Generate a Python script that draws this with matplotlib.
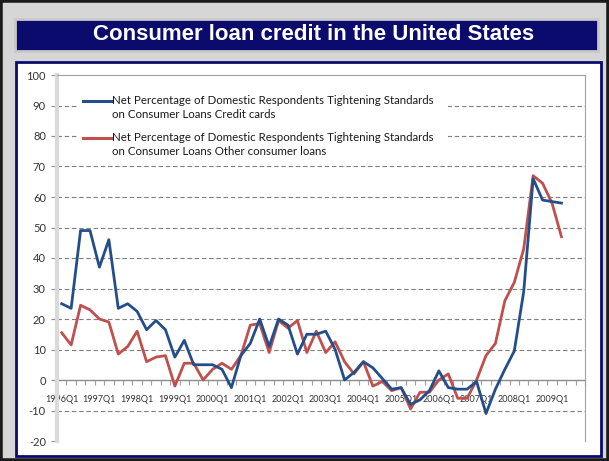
import matplotlib
matplotlib.use("Agg")
import matplotlib.pyplot as plt
from matplotlib.patches import Rectangle
from matplotlib.lines import Line2D

W, H = 609, 461

# quarterly survey series, 1996Q1 .. 2009Q2
quarters = [f"{y}Q{q}" for y in range(1996, 2010) for q in range(1, 5)][:54]

credit_cards = [
    25, 23.5, 49, 49, 37, 46, 23.5, 25, 22.5, 16.5, 19.5, 16.5,
    7.5, 13, 5, 5, 5, 3.5, -2.5, 8, 12, 20, 11, 20,
    18, 8.5, 15, 15, 16, 10, 0, 2.5, 6, 4, 0.5, -3,
    -2.5, -8, -6.5, -3.5, 3, -2.5, -3, -3, -0.5, -11, -3, 3.5,
    9.5, 29, 66, 59, 58.5, 58,
]
other_loans = [
    15.5, 11.5, 24.5, 23, 20, 19, 8.5, 11, 16, 6, 7.5, 8,
    -2, 5.5, 5.5, 0, 3.5, 5.5, 3.5, 8, 18, 18.5, 9, 19.5,
    17, 19.5, 9, 16, 9, 12.5, 6, 2, 6, -2, -0.5, -3.5,
    -2.5, -9.5, -4, -4, 0, 2, -6, -6, 0, 8, 12, 26,
    32, 43, 67, 64.5, 58, 47,
]

series_labels = [
    "Net Percentage of Domestic Respondents Tightening Standards\non Consumer Loans Credit cards",
    "Net Percentage of Domestic Respondents Tightening Standards\non Consumer Loans Other consumer loans",
]
y_ticks = list(range(-20, 101, 10))
n_categories = 56  # axis runs on to 2009Q4

BLUE = "#244e8a"
RED = "#c0504d"
NAVY = "#0b0b6e"
TXT_FONT = ["Lato", "DejaVu Sans"]


def fx(px):
    return px / W


def fy(py):
    return 1 - py / H


fig = plt.figure(figsize=(W / 100, H / 100), dpi=100)
fig.patch.set_facecolor("#d6d6d6")

# dark outer frame
fig.patches.append(Rectangle((0, 0), 1, 1, transform=fig.transFigure,
                             fill=False, edgecolor="#1a1a1a", linewidth=4, zorder=0))

# title banner
fig.patches.append(Rectangle((fx(15), fy(51)), fx(583), 32 / H,
                             transform=fig.transFigure, facecolor=NAVY,
                             edgecolor="#c8c8c8", linewidth=2, zorder=0))
fig.text(fx(314), fy(35), "Consumer loan credit in the United States",
         color="white", fontsize=16, fontweight="bold",
         family="Liberation Sans", ha="center", va="center")

# white chart panel
fig.patches.append(Rectangle((fx(16), fy(456)), fx(585), 394 / H,
                             transform=fig.transFigure, facecolor="white",
                             edgecolor=NAVY, linewidth=2, zorder=0))

ax = fig.add_axes([fx(57), fy(441), fx(528), 366 / H])
ax.set_zorder(2)
ax.set_facecolor("white")

x = list(range(len(quarters)))
ax.plot(x, credit_cards, color=BLUE, linewidth=2.0, solid_joinstyle="round", zorder=4)
ax.plot(x, other_loans, color=RED, linewidth=2.0, solid_joinstyle="round", zorder=3)

ax.set_xlim(-0.5, n_categories - 0.5)
ax.set_ylim(-20, 100)

# gridlines
for v in y_ticks:
    if v in (0, 100, -20):
        continue
    ax.axhline(v, color="#7f7f7f", linewidth=0.8, linestyle=(0, (4, 2.5)), zorder=1)

ax.spines["bottom"].set_position(("data", 0))
ax.spines["bottom"].set_color("#8c8c8c")
ax.spines["bottom"].set_linewidth(1.0)
ax.spines["bottom"].set_zorder(2)
ax.spines["top"].set_color("#a0a0a0")
ax.spines["top"].set_linewidth(0.8)
ax.spines["right"].set_color("#a0a0a0")
ax.spines["right"].set_linewidth(0.8)
ax.spines["left"].set_color("#dadada")
ax.spines["left"].set_linewidth(3)

ax.set_yticks(y_ticks)
ax.set_yticklabels([str(v) for v in y_ticks])
ax.tick_params(axis="y", direction="out", length=4, width=0.8, color="#8c8c8c",
               labelsize=8, labelcolor="#333333", pad=4)
for lab in ax.get_yticklabels():
    lab.set_family(TXT_FONT)

label_idx = list(range(0, len(quarters), 4))
ax.set_xticks(label_idx)
ax.set_xticklabels([quarters[i] for i in label_idx])
ax.set_xticks([i + 0.5 for i in range(-1, n_categories)], minor=True)
ax.tick_params(axis="x", which="major", length=0, labelsize=6.5,
               labelcolor="#333333", pad=11)
ax.tick_params(axis="x", which="minor", direction="out", length=3.5,
               width=0.8, color="#a0a0a0")
for lab in ax.get_xticklabels():
    lab.set_family(TXT_FONT)

# legend block, drawn by hand so the key line sits on the first text line
ax.add_patch(Rectangle((fx(78), fy(162)), fx(370), 72 / H, transform=fig.transFigure,
                       facecolor="white", edgecolor="none", zorder=5, clip_on=False))
for k, (lab, col) in enumerate(zip(series_labels, [BLUE, RED])):
    y_top = 101 + k * 37
    ax.add_line(Line2D([fx(83), fx(111)], [fy(y_top), fy(y_top)],
                       transform=fig.transFigure, color=col,
                       linewidth=2.2, zorder=6, clip_on=False))
    ax.text(fx(112), fy(y_top - 6), lab, transform=fig.transFigure,
            fontsize=8.3, family=TXT_FONT, color="#1a1a1a",
            ha="left", va="top", linespacing=1.3, zorder=6)

fig.savefig("out.png", dpi=100, facecolor=fig.get_facecolor())
